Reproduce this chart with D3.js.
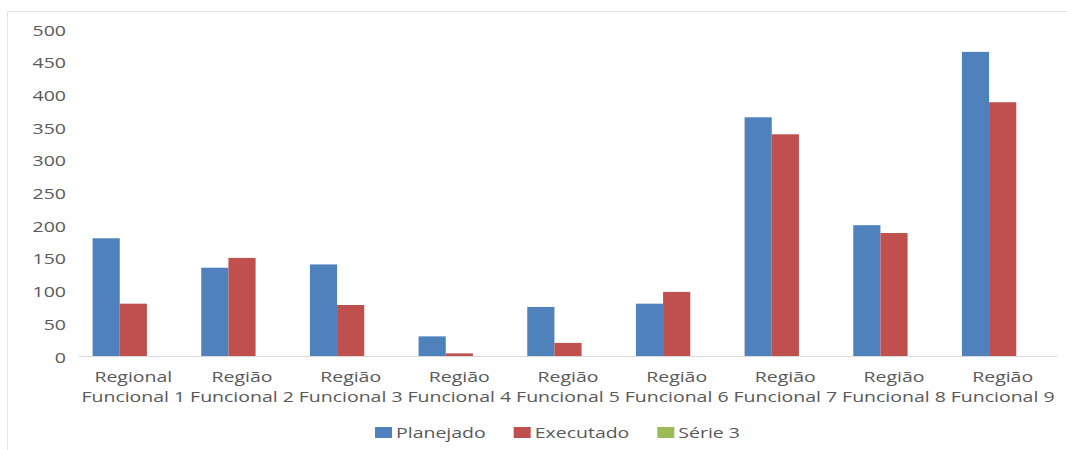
<!DOCTYPE html>
<html>
<head>
<meta charset="utf-8">
<script src="https://d3js.org/d3.v7.min.js"></script>
<style>
  body { margin: 0; background: #fff; }
  text { font-family: "Open Sans", sans-serif; font-size: 15px; fill: #595959; }
</style>
</head>
<body>
<div id="chart"></div>
<script>
var categories = [
  ["Regional", "Funcional 1"], ["Região", "Funcional 2"], ["Região", "Funcional 3"],
  ["Região", "Funcional 4"], ["Região", "Funcional 5"], ["Região", "Funcional 6"],
  ["Região", "Funcional 7"], ["Região", "Funcional 8"], ["Região", "Funcional 9"]
];
var seriesNames = ["Planejado", "Executado", "Série 3"];
var planejado = [180, 135, 140, 30, 75, 80, 365, 200, 465];
var executado = [80, 150, 78, 4, 20, 98, 339, 188, 388];
var serie3 = [null, null, null, null, null, null, null, null, null];
var yTicks = [0, 50, 100, 150, 200, 250, 300, 350, 400, 450, 500];
var colors = ["#4F81BD", "#C0504D", "#9BBB59"];

var sx = 1.3; // the source picture is stretched horizontally

var svg = d3.select("#chart").append("svg").attr("width", 1067).attr("height", 450);

// chart frame (only top and left edges are visible)
svg.append("line").attr("x1", 7.5).attr("x2", 1067).attr("y1", 11.5).attr("y2", 11.5)
  .attr("stroke", "#e3e3e3");
svg.append("line").attr("x1", 7.5).attr("x2", 7.5).attr("y1", 11.5).attr("y2", 450)
  .attr("stroke", "#e3e3e3");

var x0 = d3.scaleBand().domain(d3.range(categories.length)).range([79, 1057]).padding(0);
var x1 = d3.scaleBand().domain(seriesNames).range([0, x0.bandwidth()])
  .paddingInner(0).paddingOuter(0.5);
var y = d3.scaleLinear().domain([0, 500]).range([356, 29]);

// y axis labels
var yAxis = svg.append("g").attr("transform", "translate(66,0)")
  .call(d3.axisLeft(y).tickValues(yTicks).tickSize(0).tickPadding(0));
yAxis.select(".domain").remove();
yAxis.selectAll("text")
  .attr("x", null).attr("dy", null)
  .attr("dominant-baseline", "central")
  .attr("transform", "scale(" + sx + ",1)");
yAxis.attr("font-family", null).attr("font-size", null);
yAxis.selectAll("text").attr("fill", null);

var allSeries = [planejado, executado, serie3];
allSeries.forEach(function(vals, si) {
  svg.append("g").selectAll("rect")
    .data(vals.map(function(v, i) { return {i: i, v: v}; }).filter(function(d) { return d.v != null; }))
    .enter().append("rect")
    .attr("x", function(d) { return x0(d.i) + x1(seriesNames[si]); })
    .attr("width", x1.bandwidth())
    .attr("y", function(d) { return y(d.v); })
    .attr("height", function(d) { return y(0) - y(d.v); })
    .attr("fill", colors[si]);
});

// baseline
svg.append("line").attr("x1", 79).attr("x2", 1057).attr("y1", y(0) + 0.5).attr("y2", y(0) + 0.5)
  .attr("stroke", "#d9d9d9");

// category labels
var cat = svg.append("g").selectAll("g").data(categories).enter().append("g")
  .attr("transform", function(d, i) { return "translate(" + (x0(i) + x0.bandwidth() / 2) + ",0)"; });
cat.each(function(d) {
  var g = d3.select(this);
  d.forEach(function(line, li) {
    g.append("text")
      .attr("transform", "translate(0," + (382 + li * 19.5) + ") scale(" + sx + ",1)")
      .attr("text-anchor", "middle")
      .text(line);
  });
});

// legend
var lx = 375;
seriesNames.forEach(function(name, i) {
  svg.append("rect").attr("x", lx).attr("y", 427).attr("width", 17).attr("height", 11)
    .attr("fill", colors[i]);
  var t = svg.append("text")
    .attr("transform", "translate(" + (lx + 21) + ",438) scale(" + sx + ",1)")
    .text(name);
  lx += 21 + t.node().getComputedTextLength() * sx + 28;
});
</script>
</body>
</html>
